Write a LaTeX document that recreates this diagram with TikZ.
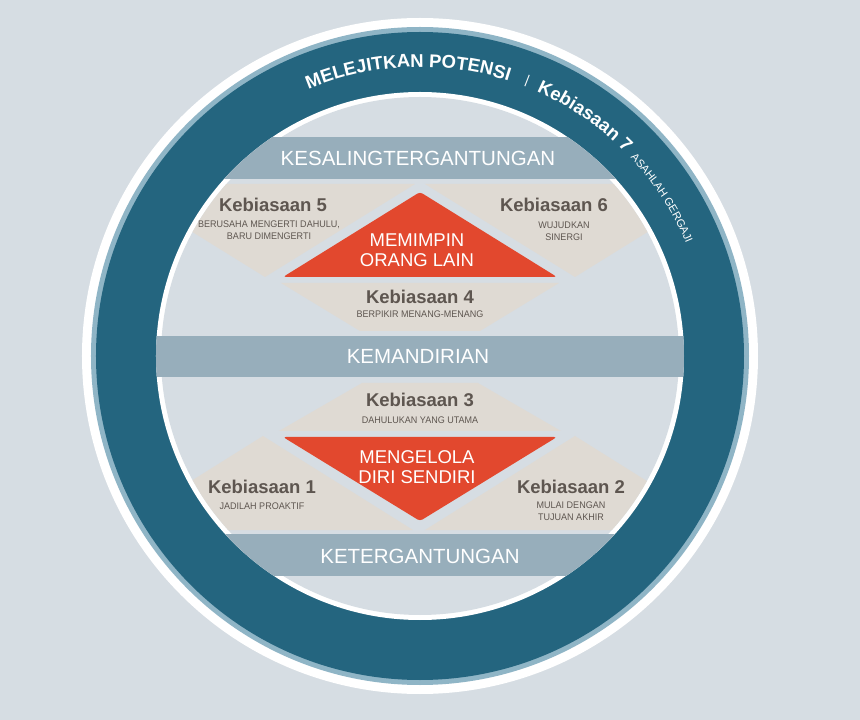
\documentclass[tikz,border=0pt]{standalone}
\usepackage{fontspec}
\setmainfont{Liberation Sans}
\newfontfamily\subfont[FakeStretch=0.94]{Liberation Sans}
\usetikzlibrary{decorations.text}

\definecolor{bgGray}{HTML}{D6DDE3}
\definecolor{ringTeal}{HTML}{24657F}
\definecolor{ringEdge}{HTML}{8FB5C6}
\definecolor{bandBlue}{HTML}{97AEBB}
\definecolor{habitBeige}{HTML}{DFDAD3}
\definecolor{leadRed}{HTML}{E2482E}
\definecolor{habitText}{HTML}{5E5650}

\newcommand{\ringfont}{\fontsize{18.5}{18.5}\selectfont\bfseries}
\newcommand{\ringsmall}{\fontsize{11}{11}\selectfont}

\begin{document}
\begin{tikzpicture}[
	x=1pt, y=1pt,
	band/.style={fill=bandBlue},
	habit/.style={fill=habitBeige},
	lead/.style={fill=leadRed, rounded corners=3pt},
	bandtext/.style={text=white, font=\fontsize{20.5}{20.5}\selectfont, inner sep=0pt},
	habittitle/.style={text=habitText, font=\fontsize{18.5}{18.5}\selectfont\bfseries, inner sep=0pt},
	habitsub/.style={text=habitText, font=\subfont\fontsize{9.6}{11.5}\selectfont, align=center, inner sep=0pt},
	leadtext/.style={text=white, font=\fontsize{18.5}{19.5}\selectfont, align=center, inner sep=0pt},
	ringtext/.style={decorate, decoration={text along path, text color=white, text={#1}}}
]

\fill[bgGray] (-420,-364) rectangle (440,356);
\useasboundingbox (-420,-364) rectangle (440,356);

% rings
\fill[white] (0,0) circle[radius=338pt];
\fill[ringEdge] (0,0) circle[radius=329pt];
\fill[ringTeal] (0,0) circle[radius=324pt];
\fill[white] (0,0) circle[radius=264pt];
\fill[bgGray] (0,0) circle[radius=259pt];

% bands
\begin{scope}
	\clip (0,0) circle[radius=264pt];
	\fill[band] (-300,177) rectangle (300,219);
	\fill[band] (-300,-21) rectangle (300,20);
	\fill[band] (-300,-220) rectangle (300,-178);
\end{scope}

% habits
\begin{scope}
	\clip (0,0) circle[radius=259pt];
	\fill[habit] (-155,79) -- (-305,172) -- (-5,172) -- cycle;
	\fill[habit] (155,79) -- (5,172) -- (305,172) -- cycle;
	\fill[habit] (-139,73) -- (139,73) -- (60,25) -- (-60,25) -- cycle;
	\fill[habit] (-58,-27) -- (58,-27) -- (141,-75) -- (-141,-75) -- cycle;
	\fill[habit] (-157,-80) -- (-307,-174) -- (-7,-174) -- cycle;
	\fill[habit] (155,-80) -- (5,-174) -- (305,-174) -- cycle;
\end{scope}

\fill[lead] (0,164) -- (137,79) -- (-137,79) -- cycle;
\fill[lead] (-137,-81) -- (137,-81) -- (0,-165) -- cycle;

\node[bandtext] (interdep) at (-2,198) {KESALINGTERGANTUNGAN};
\node[bandtext] (indep) at (-2,0) {KEMANDIRIAN};
\node[bandtext] (dep) at (0,-200) {KETERGANTUNGAN};

\node[habittitle] (habit5) at (-147,151) {Kebiasaan 5};
\node[habitsub] (habit5sub) at (-151,126) {BERUSAHA MENGERTI DAHULU,\\BARU DIMENGERTI};
\node[habittitle] (habit6) at (134,151) {Kebiasaan 6};
\node[habitsub] (habit6sub) at (144,125) {WUJUDKAN\\SINERGI};
\node[leadtext] (leadothers) at (-3,106) {MEMIMPIN\\ORANG LAIN};
\node[habittitle] (habit4) at (0,59) {Kebiasaan 4};
\node[habitsub] (habit4sub) at (0,42) {BERPIKIR MENANG-MENANG};

\node[habittitle] (habit3) at (0,-44) {Kebiasaan 3};
\node[habitsub] (habit3sub) at (0,-64) {DAHULUKAN YANG UTAMA};
\node[leadtext] (leadself) at (-3,-111) {MENGELOLA\\DIRI SENDIRI};
\node[habittitle] (habit1) at (-158,-131) {Kebiasaan 1};
\node[habitsub] (habit1sub) at (-158,-150) {JADILAH PROAKTIF};
\node[habittitle] (habit2) at (151,-131) {Kebiasaan 2};
\node[habitsub] (habit2sub) at (151,-155) {MULAI DENGAN\\TUJUAN AKHIR};

% ring labels
\path[ringtext={|\ringfont|MELEJITKAN POTENSI}] (112.7:289) arc[start angle=112.7, end angle=50, radius=289pt];
\node[rotate=-21.3, text=white, font=\fontsize{13}{13}\selectfont, inner sep=0pt] (sep) at (68.7:295) {|};
\path[ringtext={|\ringfont|Kebiasaan 7}] (66.2:289) arc[start angle=66.2, end angle=20, radius=289pt];
\path[ringtext={|\ringsmall|ASAHLAH GERGAJI}] (43.3:289) arc[start angle=43.3, end angle=0, radius=289pt];

\end{tikzpicture}
\end{document}
